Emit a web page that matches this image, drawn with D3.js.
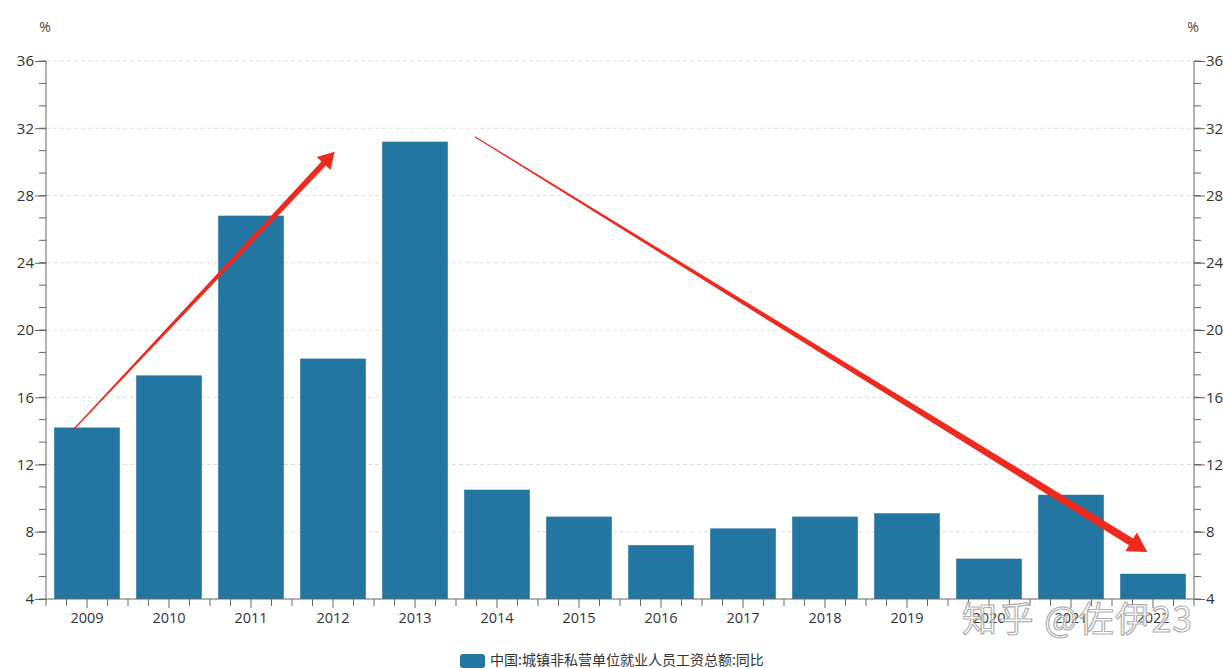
<!DOCTYPE html>
<html><head><meta charset="utf-8">
<script src="https://cdn.jsdelivr.net/npm/d3@7/dist/d3.min.js"></script>
<style>body{margin:0;background:#fff}svg{display:block}</style>
</head><body><svg id="c" width="1223" height="668"></svg>
<script>
const years = ["2009","2010","2011","2012","2013","2014","2015","2016","2017","2018","2019","2020","2021","2022"];
const values = [14.2,17.3,26.8,18.3,31.2,10.5,8.9,7.2,8.2,8.9,9.1,6.4,10.2,5.5];
const yTicks = [4,8,12,16,20,24,28,32,36];
const seriesName = "中国:城镇非私营单位就业人员工资总额:同比";
const unitLabel = "%";
// annotation arrows: [start index, start value, end index, end value]
const arrows = [[-0.17,14.05,3.02,30.6],[4.73,31.5,12.93,6.8]];
const watermark = "知乎 @佐伊23";

const svg = d3.select("#c");
const L=46,R=1194,T=61,B=599;
const x = d3.scaleBand().domain(years).range([L,R]).paddingInner(0.2).paddingOuter(0.1);
const y = d3.scaleLinear().domain([4,36]).range([B,T]);
const bw = (R-L)/years.length;
const xi = i => L + bw*(i+0.5);
const font = "'Open Sans','Noto Sans',sans-serif";
const axisCol = "#666";

// grid
svg.append("g").selectAll("line").data(yTicks.filter(d=>d>4)).join("line")
  .attr("x1",L).attr("x2",R).attr("y1",d=>y(d)).attr("y2",d=>y(d))
  .attr("stroke","#e0e0e0").attr("stroke-dasharray","4,3");

const minor = d3.range(4,36.01,4/3);

const gl = svg.append("g").attr("transform",`translate(${L},0)`)
  .call(d3.axisLeft(y).tickValues(yTicks).tickSize(11).tickPadding(1).tickFormat(d3.format("d")));
const gr = svg.append("g").attr("transform",`translate(${R},0)`)
  .call(d3.axisRight(y).tickValues(yTicks).tickSize(11).tickPadding(1).tickFormat(d3.format("d")));
[gl,gr].forEach((g,k)=>{
  g.select(".domain").attr("stroke",axisCol).attr("d",`M0,${T}V${B}`);
  g.selectAll(".tick line").attr("stroke",axisCol);
  g.selectAll(".tick text").attr("fill","#333").style("font-family",font).style("font-size","15px");
  g.selectAll(".minor").data(minor).join("line").attr("class","minor")
    .attr("x1",0).attr("x2",k===0?-7:7).attr("y1",d=>y(d)).attr("y2",d=>y(d)).attr("stroke",axisCol);
});

// bars
svg.append("g").selectAll("rect").data(values).join("rect")
  .attr("x",(d,i)=>x(years[i])).attr("width",x.bandwidth())
  .attr("y",d=>y(d)).attr("height",d=>y(4)-y(d))
  .attr("fill","#2376a2");

// bottom axis
const gb = svg.append("g").attr("transform",`translate(0,${B})`)
  .call(d3.axisBottom(x).tickSize(0).tickPadding(14));
gb.select(".domain").attr("stroke",axisCol).attr("d",`M${L},0H${R}`);
gb.selectAll(".tick text").attr("fill","#333").style("font-family",font).style("font-size","14.5px");
const xt = d3.range(0,years.length*4+1);
gb.selectAll(".xt").data(xt).join("line").attr("class","xt")
  .attr("x1",d=>L+d*bw/4).attr("x2",d=>L+d*bw/4).attr("y1",0).attr("y2",d=>d%4===2?9:7).attr("stroke",axisCol);

// unit labels
svg.append("text").attr("x",L-1).attr("y",32).attr("text-anchor","middle").attr("fill","#444")
  .style("font-family",font).style("font-size","14px").text(unitLabel);
svg.append("text").attr("x",R-1).attr("y",32).attr("text-anchor","middle").attr("fill","#444")
  .style("font-family",font).style("font-size","14px").text(unitLabel);

// arrows
const arrowSpec=[{w0:1.2,w1:6,hl:16,hw:9.5},{w0:1.2,w1:8,hl:19,hw:11}];
arrows.forEach((a,k)=>{
  const x0=xi(a[0]),y0=y(a[1]),x1=xi(a[2]),y1=y(a[3]);
  const s=arrowSpec[k];
  const dx=x1-x0,dy=y1-y0,len=Math.hypot(dx,dy),ux=dx/len,uy=dy/len,nx=-uy,ny=ux;
  const bx=x1-ux*s.hl,by=y1-uy*s.hl;
  const pts=[[x0+nx*s.w0/2,y0+ny*s.w0/2],[bx+nx*s.w1/2,by+ny*s.w1/2],[bx+nx*s.hw,by+ny*s.hw],[x1,y1],
    [bx-nx*s.hw,by-ny*s.hw],[bx-nx*s.w1/2,by-ny*s.w1/2],[x0-nx*s.w0/2,y0-ny*s.w0/2]];
  svg.append("path").attr("d",d3.line()(pts)+"Z").attr("fill","#ee2a1e");
});

// legend
const lg = svg.append("g");
lg.append("rect").attr("x",460).attr("y",654).attr("width",25).attr("height",14).attr("rx",3).attr("fill","#2376a2");
lg.append("text").attr("x",490).attr("y",665).attr("fill","#333")
  .style("font-family","'Noto Sans CJK SC',sans-serif").style("font-size","14px").text(seriesName);

// watermark
svg.append("text").attr("x",962).attr("y",632).attr("fill","#fff").attr("fill-opacity",0.7)
  .attr("stroke","#9a9a9a").attr("stroke-width",1.2).attr("stroke-opacity",0.8)
  .style("font-family","'Noto Sans CJK SC',sans-serif").style("font-size","35px")
  .attr("textLength",230).attr("lengthAdjust","spacing").text(watermark);
</script></body></html>
